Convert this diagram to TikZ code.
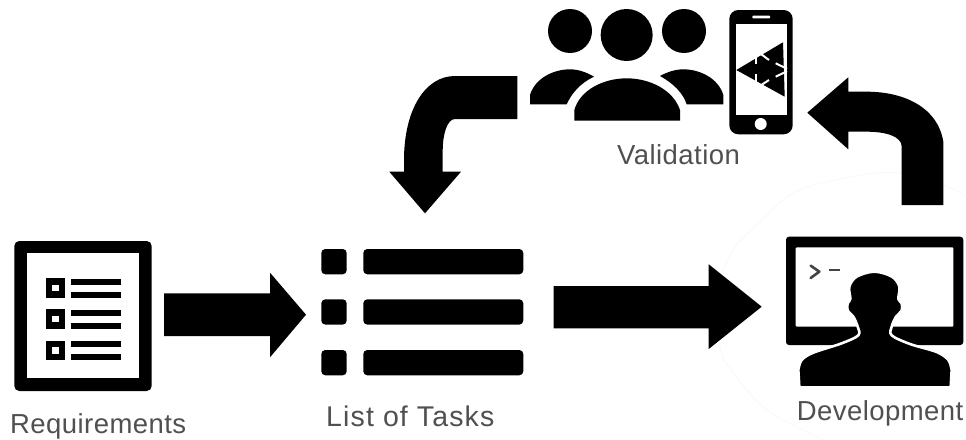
\documentclass[tikz,border=0pt]{standalone}
\usepackage{fontspec}
\setmainfont{Liberation Sans}
\tikzset{
  ink/.style={fill=black,draw=none},
  knock/.style={fill=white,draw=none},
  label/.style={inner sep=0pt,anchor=base west,text=labelgray,font=\fontsize{27.5}{30}\selectfont\addfontfeature{LetterSpace=1.6}},
  slash/.style={draw=white,line width=2pt},
  zoomed/.style={x=0.33333pt,y=-0.33333pt},
}
\definecolor{labelgray}{HTML}{505050}
\definecolor{faint}{HTML}{F8F8F8}
\definecolor{prompt}{HTML}{444444}
\begin{document}
\begin{tikzpicture}[x=1pt,y=-1pt]
\useasboundingbox (0,0) rectangle (966,439);
\fill[white] (0,0) rectangle (966,439);
% faint outline behind the development icon
\begin{scope}
\clip (0,0) rectangle (966,439);
\draw[faint,line width=0.7pt] plot[smooth,tension=0.6] coordinates {(966,196) (925,178) (877,173) (800,190) (760,222) (733,250) (719,290) (720,347) (735,375) (767,410) (817,437) (830,445)};
\end{scope}

% Requirements icon
\fill[ink,rounded corners=5pt] (14.3,241) rectangle (151.7,391);
\fill[knock] (26.7,253.3) rectangle (139.3,378.3);
\foreach \y in {278.3,309.3,340.7}{
  \fill[ink] (45.7,\y) rectangle (65,\y+19.2);
  \fill[knock] (52.3,\y+6.2) rectangle (59,\y+12.9);
  \fill[ink] (70.7,\y+0.7) rectangle (120.7,\y+6.3);
  \fill[ink] (70.7,\y+13.3) rectangle (120.7,\y+19.2);
}

% List of tasks icon
\foreach \y in {249,299.3,350}{
  \fill[ink,rounded corners=4pt] (321.3,\y) rectangle (346.7,\y+25.3);
  \fill[ink,rounded corners=4pt] (363.3,\y) rectangle (523.3,\y+25.3);
}

% Straight arrows
\fill[ink] (164,293.3) -- (270,293.3) -- (270,272.7) -- (306,314.7) -- (270,357.3) -- (270,336) -- (164,336) -- cycle;
\fill[ink] (553.7,286) -- (708.7,286) -- (708.7,264.3) -- (761.7,306.7) -- (708.7,349) -- (708.7,328.3) -- (553.7,328.3) -- cycle;

% Curved arrow to the list
\fill[ink] (517.3,76) -- (455,76) .. controls (425,76) and (404,110) .. (404,160) -- (404,171.7) -- (389.3,171.7) -- (425,213.3) -- (461,171.7) -- (442.7,171.7) -- (442.7,150) .. controls (442.7,135) and (447,119) .. (455,119) -- (517.3,119) -- cycle;

% Curved arrow to validation
\fill[ink] (901.7,205) -- (943.3,205) -- (943.3,141.7) .. controls (938,108) and (905,91.7) .. (866.7,91.7) -- (848.3,91.7) -- (848.3,77.3) -- (807.3,112.7) -- (848.3,149.3) -- (848.3,131.7) -- (866.7,131.7) .. controls (885,131.7) and (901.7,136) .. (901.7,146.7) -- cycle;

% People
\begin{scope}[shift={(520,0)},zoomed]
\fill[ink] (150,93) circle[radius=22pt];
\fill[ink] (320,105) circle[radius=26pt];
\fill[ink] (492,93) circle[radius=22pt];
\fill[ink] (30,313) -- (30,285) .. controls (45,235) and (100,208) .. (150,208) .. controls (175,208) and (200,217) .. (222,230) .. controls (180,250) and (155,280) .. (140,313) -- cycle;
\fill[ink] (163,362) -- (163,330) .. controls (180,270) and (250,235) .. (320,235) .. controls (390,235) and (460,270) .. (480,330) -- (480,362) -- cycle;
\fill[ink] (610,313) -- (610,285) .. controls (595,235) and (540,208) .. (490,208) .. controls (465,208) and (440,217) .. (420,228) .. controls (460,250) and (490,280) .. (500,313) -- cycle;
\end{scope}

% Phone
\fill[ink,rounded corners=9pt] (729.3,10) rectangle (792.7,134.3);
\fill[knock] (735.7,24) rectangle (786.7,114.7);
\fill[knock,rounded corners=0.8pt] (752.3,15.7) rectangle (770,18.3);
\fill[knock] (760.7,124) circle[radius=6pt];
% Logo
\fill[ink] (736.3,70) -- (783,42.3) -- (784.7,96.7) -- cycle;
\draw[slash] (756.3,57) -- (756.3,64.3);
\draw[slash] (756.3,74.3) -- (756.3,83);
\draw[slash] (761.3,54.3) -- (769,60);
\draw[slash] (775.7,63.3) -- (787,68.8);
\draw[slash] (775.7,76.7) -- (787,71.2);
\draw[slash] (761.3,85) -- (769,80);

% Development
\fill[ink,rounded corners=3pt] (786,236.7) rectangle (963.3,345);
\fill[knock,rounded corners=1pt] (795.7,247.3) rectangle (953.3,326.7);
\begin{scope}[shift={(770,220)},zoomed]
\draw[prompt,line width=2.6pt,line join=round,line cap=round] (122,137) -- (148,155) -- (122,174);
\draw[prompt,line width=2.4pt] (177,150) -- (209,150);
\path[fill=black,draw=white,line width=2.6pt,line join=round]
  (88,502) -- plot[smooth,tension=0.55] coordinates {
    (85,450) (95,420) (130,398) (215,370) (265,346) (263,320) (250,290) (233,272) (233,250) (241,237) (238,200) (260,170) (313,155) (366,170) (388,200) (385,237) (395,250) (395,272) (378,290) (365,320) (365,346) (420,372) (500,396) (535,420) (545,450)
  } -- (542,502) -- cycle;
\end{scope}

% Labels
\node[label] (requirements) at (10,433.3) {Requirements};
\node[label,font=\fontsize{28.5}{30}\selectfont\addfontfeature{LetterSpace=4}] (tasks) at (326,426.7) {List of Tasks};
\node[label] (validation) at (617,164) {Validation};
\node[label] (development) at (796.7,420) {Development};
\end{tikzpicture}
\end{document}
